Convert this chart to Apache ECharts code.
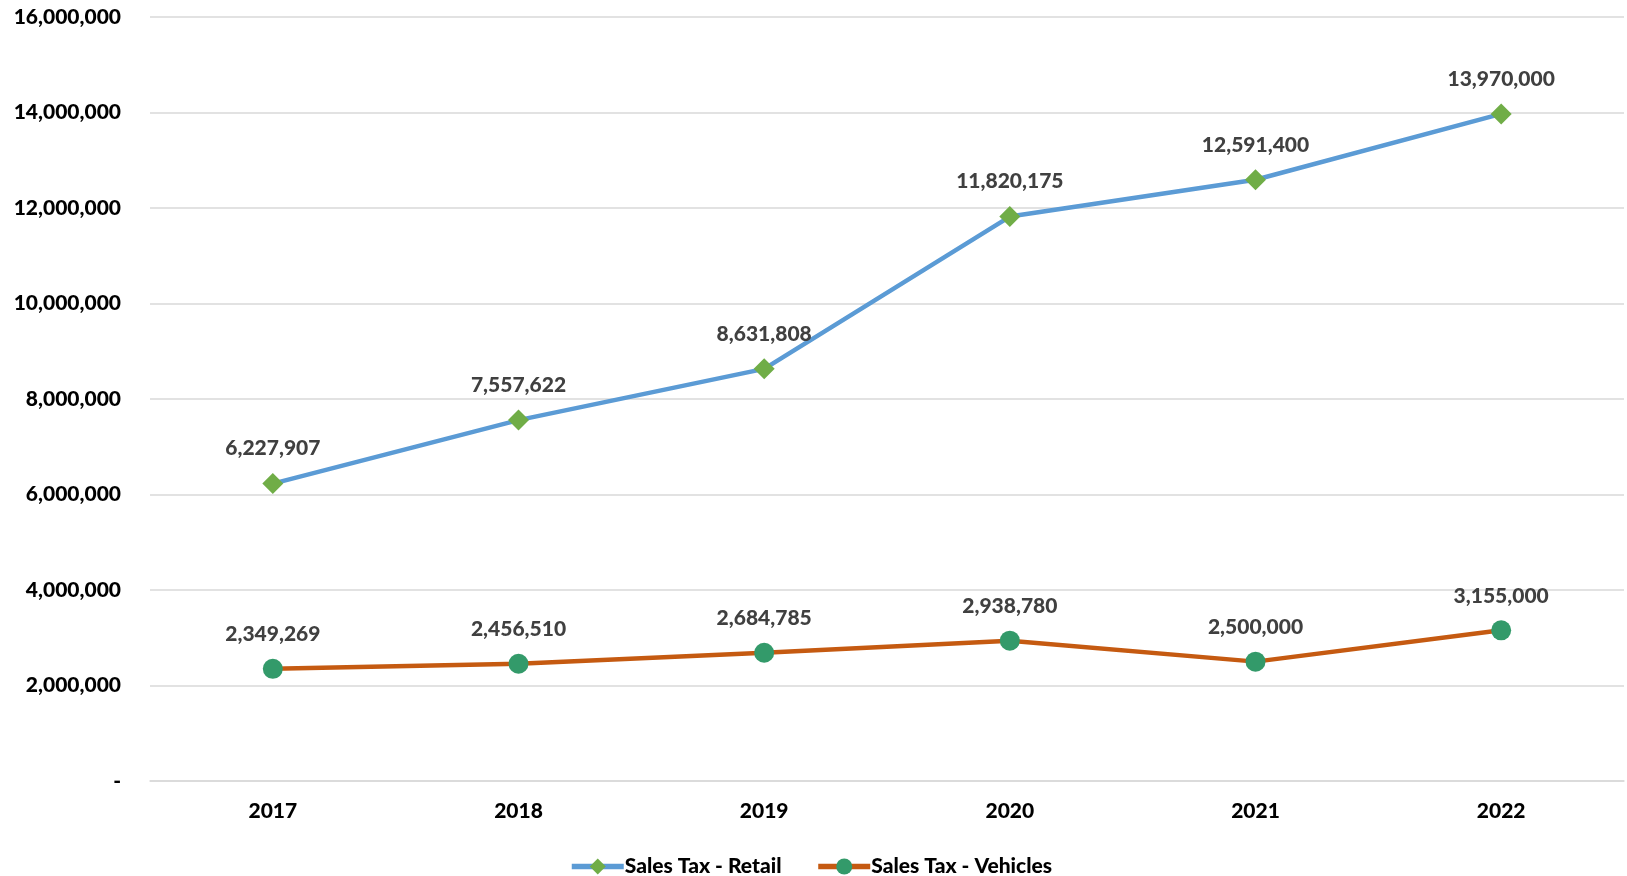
<!DOCTYPE html>
<html><head><meta charset="utf-8">
<script src="https://cdn.jsdelivr.net/npm/echarts@6/dist/echarts.min.js"></script>
<style>html,body{margin:0;padding:0;background:#fff}#c{width:1627px;height:876px}</style>
</head><body><div id="c"></div>
<script>
const categories = ['2017','2018','2019','2020','2021','2022'];
const retail = [6227907, 7557622, 8631808, 11820175, 12591400, 13970000];
const vehicles = [2349269, 2456510, 2684785, 2938780, 2500000, 3155000];
const seriesNames = ['Sales Tax - Retail', 'Sales Tax - Vehicles'];
const fmt = v => v === 0 ? '-' : v.toLocaleString('en-US');
const FONT = 'Lato';
const W = 900;
const chart = echarts.init(document.getElementById('c'));
chart.setOption({
  animation: false,
  textStyle: { fontFamily: FONT },
  grid: { left: 150, right: 3, top: 17, bottom: 95, containLabel: false },
  legend: {
    top: 851, left: 564, itemWidth: 52, itemHeight: 20, itemGap: 34,
    lineStyle: { width: 5.5 },
    textStyle: { fontFamily: FONT, fontWeight: W, fontSize: 21, color: '#000', padding: [0,0,0,-4] },
    data: seriesNames
  },
  xAxis: {
    type: 'category', data: categories, boundaryGap: true,
    axisLine: { show: true, lineStyle: { color: '#D9D9D9', width: 1.5 } },
    axisTick: { show: false },
    axisLabel: { margin: 20, fontFamily: FONT, fontWeight: W, fontSize: 21, color: '#000' }
  },
  yAxis: {
    type: 'value', min: 0, max: 16000000, interval: 2000000,
    axisLine: { show: false }, axisTick: { show: false },
    splitLine: { lineStyle: { color: '#D9D9D9', width: 1.5 } },
    axisLabel: { margin: 29, fontFamily: FONT, fontWeight: W, fontSize: 21, color: '#000', formatter: fmt }
  },
  series: [
    {
      name: seriesNames[0], type: 'line', data: retail,
      symbol: 'diamond', symbolSize: 21,
      lineStyle: { color: '#5B9BD5', width: 4.5 },
      itemStyle: { color: '#70AD47' },
      label: { show: true, position: 'top', distance: 14, fontFamily: FONT, fontWeight: W, fontSize: 21, color: '#404040', formatter: p => fmt(p.value) }
    },
    {
      name: seriesNames[1], type: 'line', data: vehicles,
      symbol: 'circle', symbolSize: 20,
      lineStyle: { color: '#C55A11', width: 4.5 },
      itemStyle: { color: '#339A6A' },
      label: { show: true, position: 'top', distance: 14, fontFamily: FONT, fontWeight: W, fontSize: 21, color: '#404040', formatter: p => fmt(p.value) }
    }
  ]
});
</script></body></html>
